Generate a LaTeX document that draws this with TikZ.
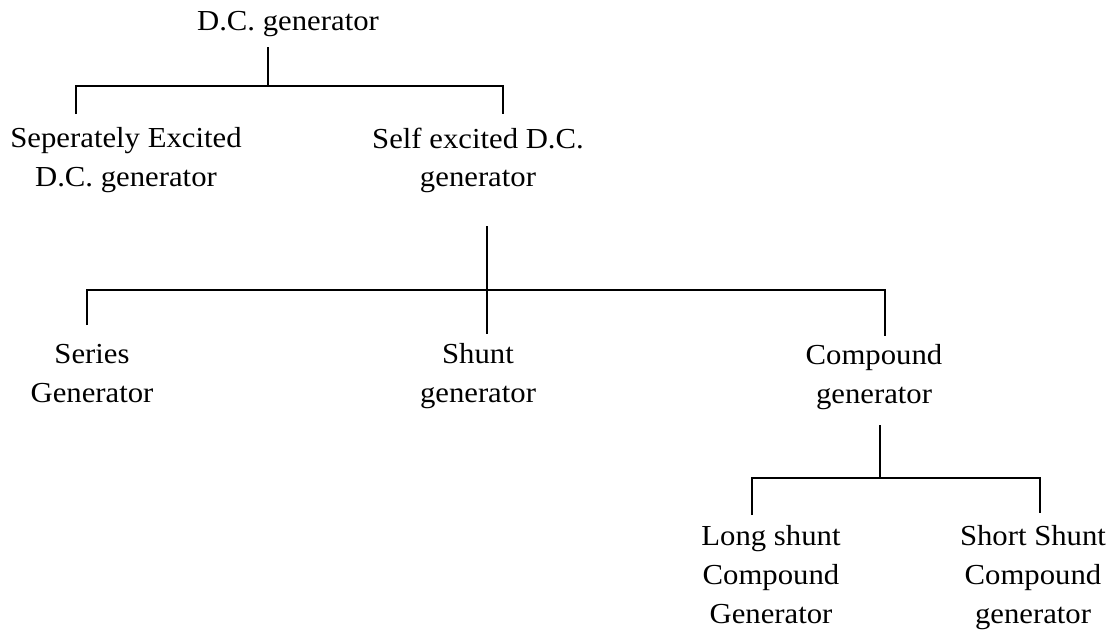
\documentclass[tikz,border=0pt]{standalone}
\usepackage{fontspec}
\setmainfont[FakeStretch=1.06]{Liberation Serif}
\usetikzlibrary{positioning}

\begin{document}
\begin{tikzpicture}[x=0.02cm, y=-0.02cm, line width=0.9pt,
  lbl/.style={align=center, anchor=north, inner sep=0pt, font=\fontsize{16.5}{22}\selectfont}]
  \useasboundingbox (0,0) rectangle (1115,630);

  \node[lbl] (dcg) at (288,11) {D.C. generator};
  \node[lbl] (sep) at (126,127) {Seperately Excited\\D.C. generator};
  \node[lbl] (self) at (478,127) {Self excited D.C.\\generator};
  \node[lbl] (series) at (92,344) {Series\\Generator};
  \node[lbl] (shunt) at (478,343) {Shunt\\generator};
  \node[lbl] (comp) at (874,344) {Compound\\generator};
  \node[lbl] (long) at (771,525) {Long shunt\\Compound\\Generator};
  \node[lbl] (short) at (1033,525) {Short Shunt\\Compound\\generator};

  % junctions and stem ends
  \coordinate (j1) at (268,86);
  \coordinate (j2) at (487,290);
  \coordinate (j3) at (880,478);
  \coordinate (dcg-out) at (268,47);
  \coordinate (sep-in) at (76,114);
  \coordinate (self-in) at (503,114);
  \coordinate (self-out) at (487,226);
  \coordinate (series-in) at (87,325);
  \coordinate (shunt-in) at (487,334);
  \coordinate (comp-in) at (885,336);
  \coordinate (comp-out) at (880,425);
  \coordinate (long-in) at (752,515);
  \coordinate (short-in) at (1040,513);

  \draw (dcg-out) -- (j1);
  \draw (sep-in) |- (j1) -| (self-in);
  \draw (self-out) -- (shunt-in);
  \draw (series-in) |- (j2) -| (comp-in);
  \draw (comp-out) -- (j3);
  \draw (long-in) |- (j3) -| (short-in);
\end{tikzpicture}
\end{document}
